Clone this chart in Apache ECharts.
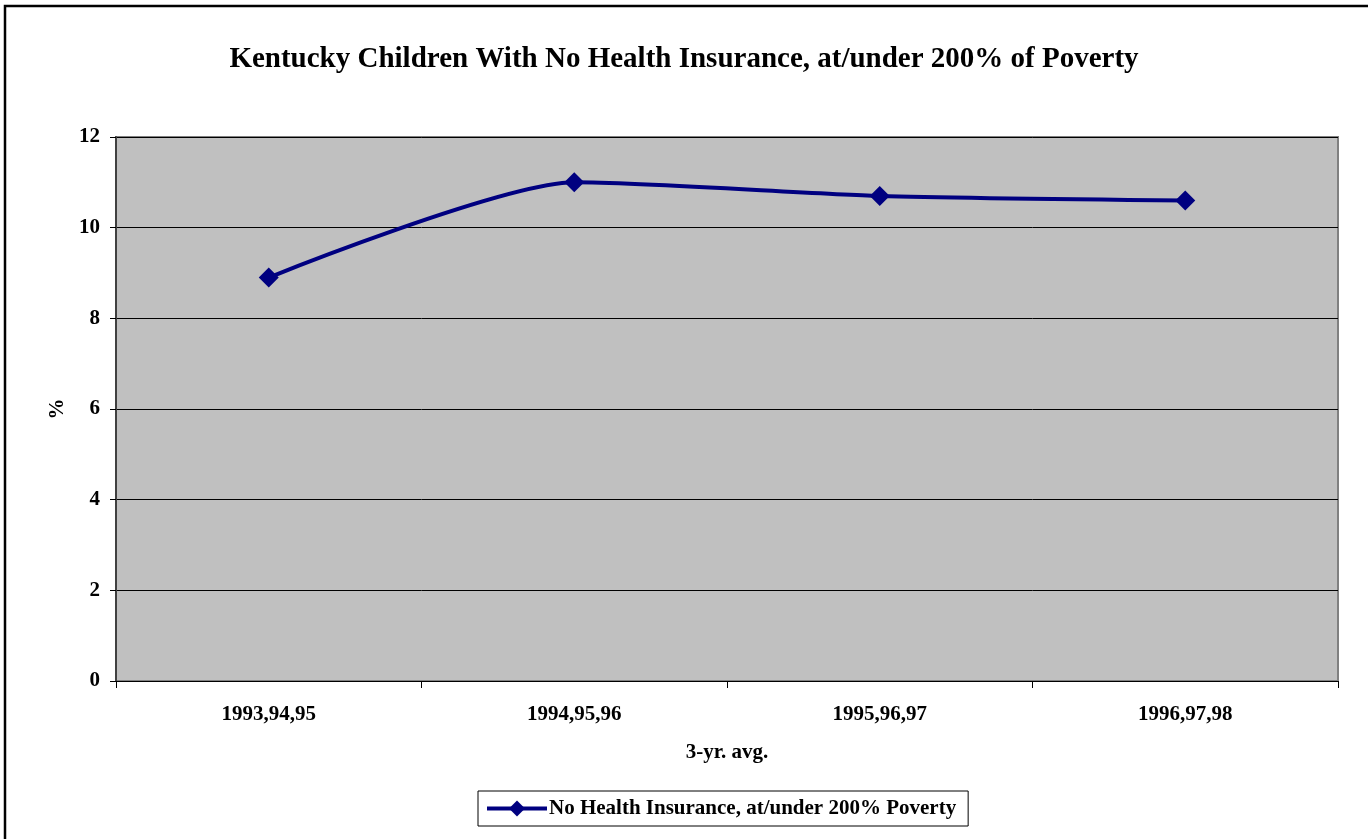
<!DOCTYPE html>
<html>
<head>
<meta charset="utf-8">
<script src="https://cdn.jsdelivr.net/npm/echarts@6/dist/echarts.min.js"></script>
<style>
  html, body { margin: 0; padding: 0; background: #fff; }
  #chart { width: 1368px; height: 839px; }
</style>
</head>
<body>
<div id="chart"></div>
<script>
// 3-year rolling averages of uninsured children, at/under 200% of poverty
var periods = ['1993,94,95', '1994,95,96', '1995,96,97', '1996,97,98'];
var uninsuredPct = [8.9, 11.0, 10.7, 10.6];
var seriesName = 'No Health Insurance, at/under 200% Poverty';

var FONT = '"Liberation Serif", "Times New Roman", serif';
var LABEL_SIZE = 21;
var chart = echarts.init(document.getElementById('chart'));

chart.setOption({
  backgroundColor: '#ffffff',
  animation: false,
  textStyle: { fontFamily: FONT, color: '#000' },
  title: {
    text: 'Kentucky Children With No Health Insurance, at/under 200% of Poverty',
    left: 'center',
    top: 40,
    textStyle: { fontFamily: FONT, fontSize: 29, fontWeight: 'bold', color: '#000' }
  },
  graphic: [{
    type: 'rect',
    shape: { x: 5, y: 6, width: 1400, height: 900 },
    style: { fill: 'none', stroke: '#000', lineWidth: 2.5 },
    silent: true
  }],
  grid: {
    left: 116, right: 30, top: 137, bottom: 158,
    show: true,
    backgroundColor: '#c0c0c0',
    borderColor: '#808080',
    borderWidth: 2
  },
  legend: {
    data: [seriesName],
    bottom: 13,
    left: 478,
    itemWidth: 60,
    itemHeight: 20,
    itemGap: 0,
    padding: [7, 12, 7, 7],
    borderColor: '#000',
    borderWidth: 1,
    backgroundColor: '#fff',
    lineStyle: { width: 4 },
    textStyle: { fontFamily: FONT, fontSize: LABEL_SIZE, fontWeight: 'bold', color: '#000', padding: [0, 0, 0, -3] }
  },
  xAxis: {
    type: 'category',
    data: periods,
    boundaryGap: true,
    name: '3-yr. avg.',
    nameLocation: 'middle',
    nameGap: 61,
    nameTextStyle: { fontFamily: FONT, fontSize: LABEL_SIZE, fontWeight: 'bold', color: '#000' },
    axisLine: { lineStyle: { color: '#000', width: 1 } },
    axisTick: { show: true, alignWithLabel: false, length: 7, lineStyle: { color: '#000' } },
    axisLabel: { fontFamily: FONT, fontSize: LABEL_SIZE, fontWeight: 'bold', color: '#000', margin: 23 },
    splitLine: { show: false }
  },
  yAxis: {
    type: 'value',
    min: 0,
    max: 12,
    interval: 2,
    name: '%',
    nameLocation: 'middle',
    nameGap: 48,
    nameRotate: 90,
    nameTextStyle: { fontFamily: FONT, fontSize: LABEL_SIZE, fontWeight: 'bold', color: '#000' },
    axisLine: { show: true, lineStyle: { color: '#404040', width: 2 } },
    axisTick: { show: true, length: 6, lineStyle: { color: '#000' } },
    axisLabel: { fontFamily: FONT, fontSize: LABEL_SIZE, fontWeight: 'bold', color: '#000', margin: 16 },
    splitLine: { show: true, lineStyle: { color: '#000', width: 1 } }
  },
  series: [{
    name: seriesName,
    type: 'line',
    data: uninsuredPct,
    smooth: 0.22,
    symbol: 'diamond',
    symbolSize: 20,
    itemStyle: { color: '#000080' },
    lineStyle: { color: '#000080', width: 4 }
  }]
});
</script>
</body>
</html>
